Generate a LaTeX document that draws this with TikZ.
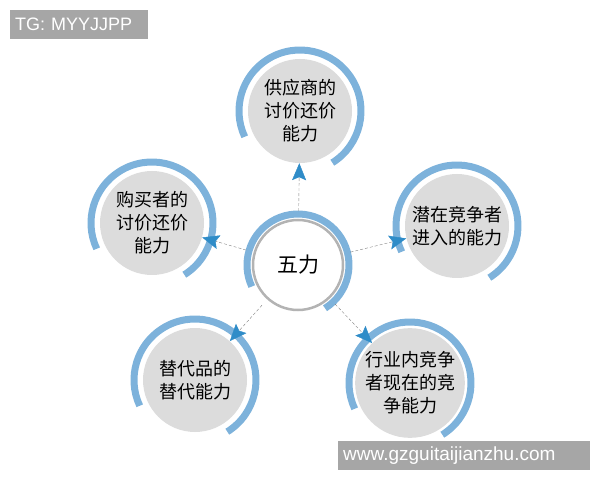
\documentclass[tikz,border=0pt]{standalone}
\usepackage{fontspec}
\setmainfont{Liberation Sans}
\newfontfamily\cjk{Noto Sans CJK SC}
\usetikzlibrary{arrows.meta, calc}
\definecolor{arcblue}{HTML}{7DB2DB}
\definecolor{tipblue}{HTML}{2F8CC8}
\definecolor{discgray}{HTML}{DCDCDC}
\definecolor{ringgray}{HTML}{B3B3B3}
\definecolor{taggray}{HTML}{A6A6A6}
\newcommand{\forcearc}[2]{
	\draw[arcblue, line width=7pt] ($ (#1) + (-58:#2) $) arc[start angle=-58, end angle=205, radius=#2];
}

\begin{document}
\begin{tikzpicture}[x=1pt, y=1pt,
	force/.style={circle, fill=discgray, minimum size=104pt, inner sep=0pt, align=center, text=black, font=\cjk\fontsize{18}{23}\selectfont},
	link/.style={gray, densely dashed, thin, -{Stealth[length=17pt, width=14pt, inset=3pt, color=tipblue]}},
	tag/.style={fill=taggray, text=white, anchor=north west, minimum height=29pt, inner xsep=5pt, align=left, font=\fontsize{18}{18}\selectfont}]
				\useasboundingbox (0,0) rectangle (600,480);
				\node[circle, draw=ringgray, line width=2.5pt, fill=white, minimum size=90pt, outer sep=9pt, font=\cjk\fontsize{21}{24}\selectfont] (C) at (298,215) {五力};
				\node[force] (S) at (300,369) {供应商的\\讨价还价\\能力};
				\node[force] (B) at (152,257) {购买者的\\讨价还价\\能力};
				\node[force] (P) at (457,254) {潜在竞争者\\进入的能力};
				\node[force] (T) at (195,100) {替代品的\\替代能力};
				\node[force] (I) at (410,97) {行业内竞争\\者现在的竞\\争能力};
				\forcearc{C}{51}
				\forcearc{S}{61}
				\forcearc{B}{61}
				\forcearc{P}{61}
				\forcearc{T}{61}
				\forcearc{I}{61}
				\draw[link] (C) -- (S);
				\draw[link] (C) -- (B);
				\draw[link] (C) -- (P);
				\draw[link] (C) -- (T);
				\draw[link] (C) -- (I);
				\node[tag, text width=128pt] (tg) at (10,470) {TG: MYYJJPP};
				\node[tag, text width=242pt, font=\fontsize{19}{19}\selectfont] (site) at (338,39) {www.gzguitaijianzhu.com};
\end{tikzpicture}
\end{document}
